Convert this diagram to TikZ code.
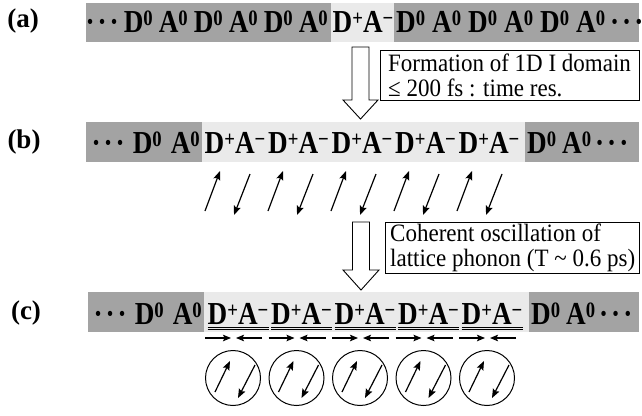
\documentclass[tikz,border=0pt]{standalone}
\usepackage{fontspec}
\setmainfont{Liberation Serif}
\newfontfamily\chainfont[FakeStretch=0.85]{Liberation Serif}
\newfontfamily\boxfont[FakeStretch=0.92]{Liberation Serif}
\usetikzlibrary{arrows.meta}
\definecolor{darkseg}{RGB}{163,163,163}
\definecolor{lightseg}{RGB}{234,234,234}
\newcommand\supx[1]{\raisebox{7pt}{\fontsize{22}{22}\selectfont #1}}
\newcommand\DZ{D\supx{0}}
\newcommand\AZ{A\supx{0}}
\newcommand\DP{D\supx{+}}
\newcommand\AM{A\supx{−}}
\newcommand\tdots{·\kern3pt·\kern3pt·}
\begin{document}
\begin{tikzpicture}[x=1pt,y=-1pt,
  chain/.style={font={\chainfont\bfseries\fontsize{32}{36}\selectfont}, inner sep=0pt},
  boxframe/.style={draw, line width=0.8pt, anchor=north west, inner sep=0pt},
  boxtext/.style={font={\boxfont\fontsize{25}{25}\selectfont}, align=left, anchor=west, inner sep=0pt},
  lbl/.style={font={\bfseries\fontsize{27}{30}\selectfont}, inner sep=0pt},
  sarrow/.style={line width=1.2pt, -{Stealth[length=9pt,width=7pt,inset=1.5pt]}},
  harrow/.style={line width=1.2pt, -{Stealth[length=8pt,width=6.5pt,inset=1.5pt]}},
  hollow/.style={line width=0.9pt, fill=white},
  uline/.style={line width=0.9pt},
  ring/.style={draw, circle, line width=1pt, minimum size=55pt, inner sep=0pt}]
\useasboundingbox (0,0) rectangle (642,415);
% bars
\fill[darkseg] (86,3) rectangle (331,42);
\fill[lightseg] (331,3) rectangle (394,42);
\fill[darkseg] (394,3) rectangle (639,42);
\fill[darkseg] (86,122) rectangle (202,162);
\fill[lightseg] (202,122) rectangle (525,162);
\fill[darkseg] (525,122) rectangle (639,162);
\fill[darkseg] (88,292) rectangle (204,332);
\fill[lightseg] (204,292) rectangle (529,332);
\fill[darkseg] (529,292) rectangle (639,332);
% labels
\node[lbl] (la) at (23,21) {(a)};
\node[lbl] (lb) at (24,142) {(b)};
\node[lbl] (lc) at (26,313) {(c)};
% row a
\node[chain, anchor=base east] (a1) at (328,32) {\tdots\kern5pt\DZ\kern6pt\AZ\kern6pt\DZ\kern6pt\AZ\kern6pt\DZ\kern6pt\AZ};
\node[chain, anchor=base] (a2) at (363,32) {\DP\AM};
\node[chain, anchor=base west] (a3) at (396,32) {\DZ\kern7pt\AZ\kern7pt\DZ\kern7pt\AZ\kern7pt\DZ\kern7pt\AZ\kern5pt\tdots};
% transition 1
\draw[hollow] (352,47) -- (369,47) -- (369,100) -- (378,100) -- (360.5,119) -- (343,100) -- (352,100) -- cycle;
\node[boxframe, minimum width=259pt, minimum height=50pt] (t1) at (380,50) {};
\node[boxtext] (t1txt) at ([xshift=8pt]t1.west) {Formation of 1D I domain\\≤ 200 fs : time res.};
% row b
\node[chain, anchor=base east] (b0) at (200,153) {\tdots\kern8pt\DZ\kern9pt\AZ};
\foreach \c [count=\i] in {235,298.5,362,425.5,489} {
  \node[chain, anchor=base] (bg\i) at (\c,153) {\DP\AM};
}
\node[chain, anchor=base west] (b6) at (527,153) {\DZ\kern6pt\AZ\kern4pt\tdots};
\foreach \p in {227,290,353,416,479} {
  \draw[sarrow] (\p-22,211) -- (\p-7,171);
  \draw[sarrow] (\p+23,174) -- (\p+7,215);
}
% transition 2
\draw[hollow] (352.5,222) -- (369.5,222) -- (369.5,270) -- (379,270) -- (361,290) -- (343,270) -- (352.5,270) -- cycle;
\node[boxframe, minimum width=254pt, minimum height=51pt] (t2) at (385,222) {};
\node[boxtext] (t2txt) at ([xshift=5pt]t2.west) {Coherent oscillation of\\lattice phonon (T \textasciitilde{} 0.6 ps)};
% row c
\node[chain, anchor=base east] (c0) at (202,324) {\tdots\kern8pt\DZ\kern9pt\AZ};
\node[chain, anchor=base west] (c6) at (531,324) {\DZ\kern6pt\AZ\kern4pt\tdots};
\foreach \c [count=\i] in {238,301.5,365,428.5,492} {
  \node[chain, anchor=base] (cg\i) at (\c,324) {\DP\AM};
  \draw[uline] ([yshift=-3pt]cg\i.south west) -- ([yshift=-3pt]cg\i.south east);
  \draw[uline] ([yshift=-5.5pt]cg\i.south west) -- ([yshift=-5.5pt]cg\i.south east);
  \draw[harrow] (\c-33,338) -- (\c-7,338);
  \draw[harrow] (\c+24,338) -- (\c-2,338);
  \node[ring] (r\i) at (\c-5,378) {};
  \draw[sarrow] (\c-23,392) -- (\c-8,361);
  \draw[sarrow] (\c+17,365) -- (\c,398);
}
\end{tikzpicture}
\end{document}
